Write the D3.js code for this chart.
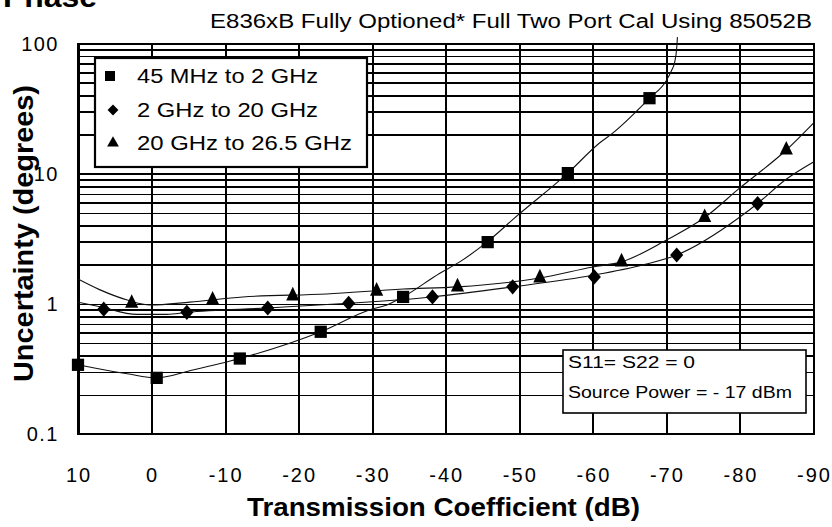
<!DOCTYPE html>
<html><head><meta charset="utf-8">
<script src="https://cdn.jsdelivr.net/npm/d3@7"></script>
<style>html,body{margin:0;padding:0;background:#fff;} svg{display:block;font-family:"Liberation Sans",Arial,sans-serif;}</style>
</head><body><svg id="c" width="832" height="527"></svg>
<script>
// ---- data ----
const seriesNames = ["45 MHz to 2 GHz", "2 GHz to 20 GHz", "20 GHz to 26.5 GHz"];
const xTickValues = [10, 0, -10, -20, -30, -40, -50, -60, -70, -80, -90];
const yTickValues = [0.1, 1, 10, 100];
const yTickLabels = ["0.1", "1", "10", "100"];

// measured points (markers)
const squareX = [10, -0.7, -12, -23, -34.2, -45.7, -56.6, -67.7];
const squareY = [0.34, 0.27, 0.38, 0.61, 1.13, 2.98, 10.1, 38];
const diamondX = [6.5, -4.8, -15.8, -26.8, -38.2, -49.1, -60.2, -71.4, -82.4];
const diamondY = [0.91, 0.86, 0.93, 1.01, 1.13, 1.35, 1.61, 2.37, 5.9];
const triangleX = [2.7, -8.3, -19.2, -30.6, -41.6, -52.8, -63.9, -75.2, -86.3];
const triangleY = [1.01, 1.07, 1.15, 1.25, 1.35, 1.58, 2.1, 4.6, 15.2];

// fitted curves
const squareCurveX = [10, 8.8, 3.3, -0.7, -5.6, -12, -23, -29.7, -32, -34.2, -39.2, -41.9, -45.6, -49.8, -56.6, -60.9, -62.7, -67.7, -70.0, -70.7, -71.1, -71.4, -71.5];
const squareCurveY = [0.34, 0.33, 0.29, 0.27, 0.31, 0.38, 0.61, 0.90, 0.98, 1.13, 1.72, 2.1, 2.98, 4.8, 10.1, 17.2, 20.5, 38, 52, 62, 71, 92, 112];
const diamondCurveX = [10, 7.0, 2.0, -2.1, -4.8, -15.8, -26.8, -38.2, -49.1, -60.0, -66.8, -71.4, -79.9, -82.4, -86.1, -90];
const diamondCurveY = [1.03, 0.95, 0.83, 0.83, 0.86, 0.93, 1.01, 1.13, 1.35, 1.66, 1.99, 2.37, 4.6, 5.9, 8.9, 12.3];
const triangleCurveX = [10, 7.0, 3.3, 0.2, -5.2, -12.4, -23.8, -34.2, -41.6, -52.8, -60.0, -63.9, -70.0, -75.2, -79.9, -86.3, -90];
const triangleCurveY = [1.55, 1.28, 1.07, 0.98, 1.03, 1.13, 1.19, 1.30, 1.35, 1.58, 1.92, 2.1, 3.09, 4.6, 7.7, 15.2, 24.5];

const titleText = "E836xB Fully Optioned* Full Two Port Cal Using 85052B";
const noteLines = ["S11=  S22 = 0", "Source Power = - 17  dBm"];

// ---- drawing ----
const svg = d3.select("#c");
const L = 78, R = 813.5, T = 43.5, B = 434;
const x = d3.scaleLinear().domain([10, -90]).range([L, R]);
const y = d3.scaleLog().domain([0.1, 100]).range([B, T]);

// "Phase" (cut off at top, as in the reference)
svg.append("text").attr("x", 3).attr("y", 7).attr("font-weight", "bold")
  .attr("font-size", 29).attr("textLength", 94).attr("lengthAdjust", "spacingAndGlyphs").text("Phase");

// title
svg.append("text").attr("x", 210).attr("y", 28).attr("font-size", 20)
  .attr("textLength", 602).attr("lengthAdjust", "spacingAndGlyphs").text(titleText);

// grid: horizontal
const g = svg.append("g").attr("shape-rendering", "crispEdges");
g.append("g").attr("transform", `translate(${L},0)`)
  .call(d3.axisLeft(y).tickValues(y.ticks()).tickSize(-(R - L)).tickFormat(""))
  .call(a => { a.select(".domain").remove(); a.selectAll("line").attr("stroke", "#000").attr("stroke-width", 1.6); });
// grid: vertical
g.append("g").attr("transform", `translate(0,${B})`)
  .call(d3.axisBottom(x).tickValues(xTickValues).tickSize(-(B - T)).tickFormat(""))
  .call(a => { a.select(".domain").remove(); a.selectAll("line").attr("stroke", "#000").attr("stroke-width", 2); });
// border
g.append("rect").attr("x", L).attr("y", T).attr("width", R - L).attr("height", B - T)
  .attr("fill", "none").attr("stroke", "#000").attr("stroke-width", 2);

// tick labels
svg.append("g").selectAll("text").data(xTickValues).join("text")
  .attr("x", d => x(d)).attr("y", 482).attr("text-anchor", "middle").attr("font-size", 20)
  .attr("letter-spacing", 2).attr("dx", 1).text(d => String(d));
svg.append("g").selectAll("text").data(yTickValues).join("text")
  .attr("x", 59).attr("y", d => y(d)).attr("dy", "0.36em").attr("text-anchor", "end").attr("font-size", 20)
  .attr("letter-spacing", 1.5).text((d, i) => yTickLabels[i]);

// axis titles
svg.append("text").attr("x", 247).attr("y", 516).attr("font-weight", "bold").attr("font-size", 25)
  .attr("textLength", 393).attr("lengthAdjust", "spacingAndGlyphs").text("Transmission Coefficient (dB)");
svg.append("text").attr("transform", "translate(33,382) rotate(-90)").attr("font-weight", "bold").attr("font-size", 27)
  .attr("textLength", 297).attr("lengthAdjust", "spacingAndGlyphs").text("Uncertainty (degrees)");

// curves
const line = d3.line().x(d => x(d[0])).y(d => y(d[1])).curve(d3.curveMonotoneX);
const curves = [
  d3.zip(squareCurveX, squareCurveY),
  d3.zip(diamondCurveX, diamondCurveY),
  d3.zip(triangleCurveX, triangleCurveY)
];
svg.append("g").selectAll("path").data(curves).join("path")
  .attr("d", line).attr("fill", "none").attr("stroke", "#111").attr("stroke-width", 1.1);

// markers
const symSquare = d3.symbol().type(d3.symbolSquare).size(150);
const symDiamond = d3.symbol().type(d3.symbolDiamond2).size(110);
const symTriangle = d3.symbol().type(d3.symbolTriangle).size(75);
const mk = svg.append("g");
mk.selectAll(".sq").data(d3.zip(squareX, squareY)).join("path").attr("class", "sq")
  .attr("transform", d => `translate(${x(d[0])},${y(d[1])})`).attr("d", symSquare).attr("fill", "#000");
mk.selectAll(".di").data(d3.zip(diamondX, diamondY)).join("path").attr("class", "di")
  .attr("transform", d => `translate(${x(d[0])},${y(d[1])}) scale(1,1.15)`).attr("d", symDiamond).attr("fill", "#000");
mk.selectAll(".tr").data(d3.zip(triangleX, triangleY)).join("path").attr("class", "tr")
  .attr("transform", d => `translate(${x(d[0])},${y(d[1])}) scale(1,1.2)`).attr("d", symTriangle).attr("fill", "#000");

// legend
const lg = svg.append("g");
lg.append("rect").attr("x", 95).attr("y", 58).attr("width", 272).attr("height", 109)
  .attr("fill", "#fff").attr("stroke", "#000").attr("stroke-width", 2.2);
const legY = [83, 117, 150];
const legW = [181, 181, 215];
const legSyms = [d3.symbol().type(d3.symbolSquare).size(100), d3.symbol().type(d3.symbolDiamond2).size(75), d3.symbol().type(d3.symbolTriangle).size(60)];
seriesNames.forEach((n, i) => {
  lg.append("path").attr("transform", `translate(${i === 0 ? 110 : 113},${legY[i] - 7})`).attr("d", legSyms[i]()).attr("fill", "#000");
  lg.append("text").attr("x", 137).attr("y", legY[i]).attr("font-size", 20)
    .attr("textLength", legW[i]).attr("lengthAdjust", "spacingAndGlyphs").text(n);
});

// note box
const nb = svg.append("g");
nb.append("rect").attr("x", 563).attr("y", 350).attr("width", 243).attr("height", 63)
  .attr("fill", "#fff").attr("stroke", "#000").attr("stroke-width", 1.6);
nb.append("text").attr("x", 568).attr("y", 368).attr("font-size", 16)
  .attr("textLength", 127).attr("lengthAdjust", "spacingAndGlyphs").text(noteLines[0]);
nb.append("text").attr("x", 568).attr("y", 398).attr("font-size", 16)
  .attr("textLength", 224).attr("lengthAdjust", "spacingAndGlyphs").text(noteLines[1]);
</script></body></html>
